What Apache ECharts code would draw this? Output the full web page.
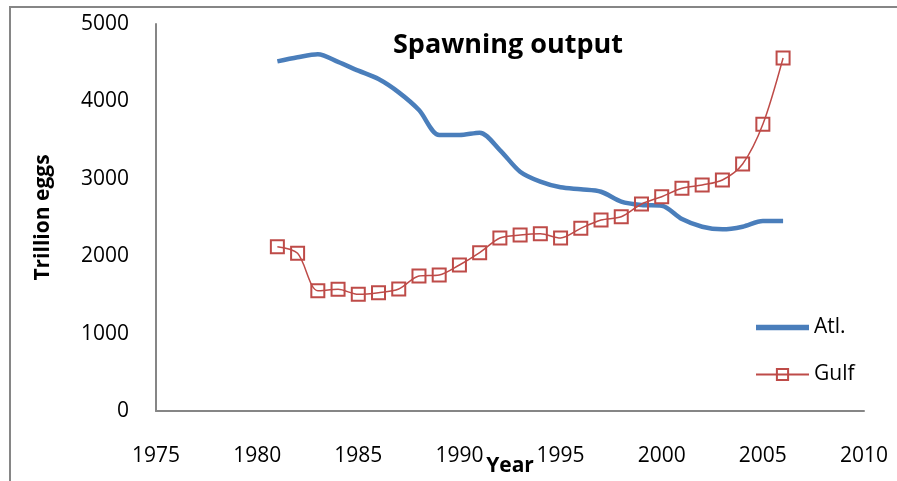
<!DOCTYPE html>
<html>
<head>
<meta charset="utf-8">
<script src="https://cdn.jsdelivr.net/npm/echarts@6/dist/echarts.min.js"></script>
<style>
  html, body { margin: 0; padding: 0; background: #fff; }
  #chart { width: 897px; height: 481px; }
</style>
</head>
<body>
<div id="chart"></div>
<script>
// years and spawning output (trillion eggs)
const years = [1981, 1982, 1983, 1984, 1985, 1986, 1987, 1988, 1989, 1990,
  1991, 1992, 1993, 1994, 1995, 1996, 1997, 1998, 1999, 2000,
  2001, 2002, 2003, 2004, 2005, 2006];
const atl = [4517, 4570, 4608, 4510, 4397, 4289, 4117, 3889, 3566, 3566,
  3596, 3372, 3092, 2963, 2890, 2864, 2833, 2704, 2661, 2652,
  2480, 2381, 2347, 2381, 2455, 2455];
const gulf = [2123, 2037, 1554, 1572, 1507, 1528, 1576, 1744, 1757, 1886,
  2046, 2235, 2274, 2290, 2235, 2360, 2468, 2510, 2674, 2769,
  2877, 2920, 2984, 3191, 3704, 4561];

const FONT = '"Open Sans", sans-serif';
const axisGray = '#868686';

const pairs = (vals) => years.map((y, i) => [y, vals[i]]);

const chart = echarts.init(document.getElementById('chart'));
chart.setOption({
  animation: false,
  textStyle: { fontFamily: FONT },
  title: {
    text: 'Spawning output',
    left: 503, top: 27, textAlign: 'center',
    textStyle: { fontFamily: FONT, fontWeight: 'bold', fontSize: 27, color: '#000' }
  },
  graphic: [{
    type: 'rect', silent: true, z: -1,
    shape: { x: 10, y: 7, width: 1000, height: 600 },
    style: { fill: 'none', stroke: axisGray, lineWidth: 2 }
  }],
  legend: {
    orient: 'vertical', left: 750, top: 312,
    itemWidth: 53, itemHeight: 14, itemGap: 26,
    textStyle: { fontFamily: FONT, fontSize: 21, color: '#000' },
    data: [
      { name: 'Atl.', icon: 'path://M0,0H10V1H0Z' },
      { name: 'Gulf' }
    ]
  },
  grid: { left: 156, right: 33, top: 24, bottom: 70, containLabel: false, outerBoundsMode: 'none' },
  xAxis: {
    type: 'value', min: 1975, max: 2010, interval: 5,
    name: 'Year', nameLocation: 'middle', nameGap: 45, nameMoveOverlap: false,
    nameTextStyle: { fontFamily: FONT, fontWeight: 'bold', fontSize: 21, color: '#000' },
    axisLine: { lineStyle: { color: axisGray, width: 2 } },
    axisTick: { show: false },
    splitLine: { show: false },
    axisLabel: { margin: 35, fontSize: 21, color: '#000', fontFamily: FONT, formatter: (v) => String(v) }
  },
  yAxis: {
    type: 'value', min: 0, max: 5000, interval: 1000,
    name: 'Trillion eggs', nameLocation: 'middle', nameGap: 102, nameMoveOverlap: false,
    nameTextStyle: { fontFamily: FONT, fontWeight: 'bold', fontSize: 21, color: '#000' },
    axisLine: { show: true, lineStyle: { color: axisGray, width: 2 } },
    axisTick: { show: false },
    splitLine: { show: false },
    axisLabel: { margin: 27, fontSize: 21, color: '#000', fontFamily: FONT, formatter: (v) => String(v) }
  },
  series: [
    {
      name: 'Atl.', type: 'line', data: pairs(atl),
      smooth: 0.3, showSymbol: false, symbol: 'none',
      lineStyle: { color: '#4A7EBB', width: 4.5 },
      itemStyle: { color: '#4A7EBB' }
    },
    {
      name: 'Gulf', type: 'line', data: pairs(gulf),
      smooth: 0.3, symbol: 'rect', symbolSize: 13,
      lineStyle: { color: '#BE4B48', width: 1.5 },
      itemStyle: { color: 'rgba(0,0,0,0)', borderColor: '#BE4B48', borderWidth: 2 }
    }
  ]
});
</script>
</body>
</html>
